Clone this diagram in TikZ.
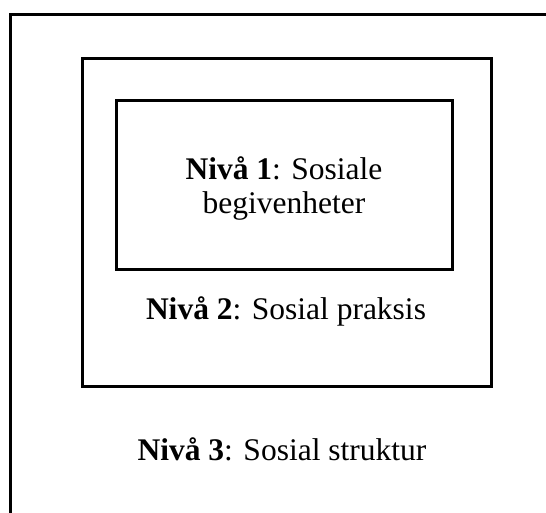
\documentclass[tikz,border=0pt]{standalone}
\usepackage{fontspec}
\setmainfont{Liberation Serif}
\begin{document}
\begin{tikzpicture}[x=1pt,y=-1pt,
  frame/.style={draw=black,line width=3pt},
  lbl/.style={anchor=base,inner sep=0pt,font=\fontsize{31.5}{34}\selectfont,align=center}]
\useasboundingbox (0,0) rectangle (546,512);
\draw[frame,line cap=rect] (10,520) -- (10,14) -- (560,14);
\draw[frame] (82,58) rectangle (491,386);
\draw[frame] (116,100.5) rectangle (452,269);
\node[lbl] (n1a) at (284,179) {\textbf{Nivå 1}: Sosiale};
\node[lbl] (n1b) at (284,213) {begivenheter};
\node[lbl] (n2) at (286,319) {\textbf{Nivå 2}: Sosial praksis};
\node[lbl] (n3) at (282,460) {\textbf{Nivå 3}: Sosial struktur};
\end{tikzpicture}
\end{document}
